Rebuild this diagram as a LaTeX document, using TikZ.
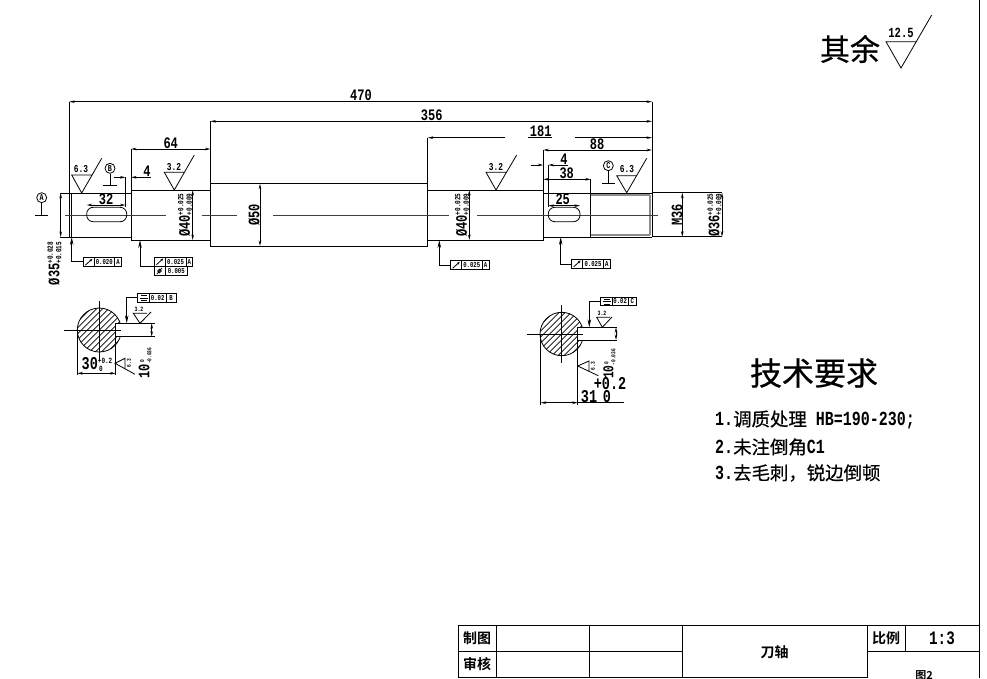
\documentclass[tikz,border=0pt]{standalone}
\usepackage{fontspec}
\usetikzlibrary{arrows.meta}
\setmainfont{Liberation Mono}
\newfontfamily\dimf[FakeStretch=0.75]{Liberation Mono Bold}
\newfontfamily\cjkf{Noto Sans CJK SC}
\newfontfamily\cjkm[FakeBold=0.6]{Noto Sans CJK SC}
\newfontfamily\cjkb{Noto Sans CJK SC Bold}
\newcommand{\fs}[1]{\fontsize{#1}{#1}\selectfont}
\newcommand{\tolst}[3][8]{\raisebox{-2pt}{\fontsize{#1}{6.5}\selectfont\shortstack[l]{#2\\#3}}}
\newcommand{\lab}[4][]{\node[lbl,#1] (#2) at (#3) {#4};}
\newcommand{\rough}[4]{\draw[part] #1 -- #2 -- #3 -- #4;}
\newcommand{\tframe}[6]{\draw[part] (#1,#5) rectangle (#4,#6);
  \draw[part] (#2,#5) -- (#2,#6) (#3,#5) -- (#3,#6);}
\newcommand{\runout}[2]{\draw[part,-{Stealth[length=3pt,width=2.4pt]}] (#1+2,#2+7.5) -- (#1+9,#2+1.2);}
\newcommand{\symm}[2]{\draw[part] (#1+2.5,#2+2) -- (#1+8.5,#2+2) (#1+1.5,#2+4.3) -- (#1+9.5,#2+4.3) (#1+2.5,#2+6.6) -- (#1+8.5,#2+6.6);}
\newcommand{\datum}[5]{\node[circle,draw,line width=.8pt,inner sep=0,minimum size=10pt,font=\dimf\fs{9}] (#5) at (#1,#2) {#5};
  \draw[part] (#5.south) -- (#1,#3) (#1-#4,#3) -- (#1+#4,#3);}
\tikzset{
  x=1pt,y=-1pt,
  part/.style={line width=.8pt,black},
  heavy/.style={line width=1pt,black},
  center/.style={line width=.8pt,black!75},
  thread/.style={line width=1.4pt,black!45},
  dimline/.style={line width=.8pt,black,{Stealth[length=5.5pt,width=2.6pt]}-{Stealth[length=5.5pt,width=2.6pt]}},
  oneend/.style={line width=.8pt,black,-{Stealth[length=5.5pt,width=2.6pt]}},
  lead/.style={line width=.8pt,black,-{Stealth[length=8pt,width=3.5pt]}},
  lbl/.style={inner sep=0,font=\dimf\fs{16}},
  tiny/.style={inner sep=0,font=\dimf\fs{7.5}},
  small/.style={inner sep=0,font=\dimf\fs{10.5}},
  cell/.style={inner sep=0,font=\cjkb\fs{14}}
}
\begin{document}
\begin{tikzpicture}
\useasboundingbox (0,0) rectangle (987,678);
\clip (0,0) rectangle (987,678);
\fill[white] (0,0) rectangle (987,678);
% border
\draw[heavy] (979,0) -- (979,678);
% remark
\node[inner sep=0,font=\cjkm\fs{30}] (rest) at (850,49) {其余};
\rough{(931.7,15)}{(901,68)}{(886,41.7)}{(916.7,41.7)}
\node[small,font=\dimf\fs{14}] (r125) at (901,33) {12.5};
% shaft outline
\draw[heavy] (69.3,193) rectangle (131,237);
\draw[part] (71.7,193) -- (71.7,237);
\draw[heavy] (131,190) rectangle (210.4,240);
\draw[heavy] (210.4,183.7) rectangle (427.7,246);
\draw[heavy] (427.7,190) rectangle (543.3,240);
\draw[heavy] (543.3,193) rectangle (590.7,237);
\draw[heavy] (590.7,193) -- (652,193) (590.7,237) -- (652,237) (590.7,193) -- (590.7,237) (652,193) -- (652,237);
\draw[thread] (590.7,195) -- (650,195) (590.7,235) -- (650,235) (650,195) -- (650,235);
\draw[part] (652,192.7) -- (722,192.7) (652,236.7) -- (722,236.7);
% centre line
\draw[center] (65,215) -- (165.7,215) (201.7,215) -- (236.7,215) (273.3,215) -- (449,215) (477.3,215) -- (658,215);
% keys
\draw[part,rounded corners=6.5pt] (86.7,207.3) rectangle (126.7,221.7);
\draw[part,rounded corners=6.5pt] (548.3,207.3) rectangle (580,221.7);
% extension lines
\draw[part] (69.3,101.7) -- (69.3,193);
\draw[part] (210.4,121.3) -- (210.4,184);
\draw[part] (427.7,137.7) -- (427.7,190);
\draw[part] (131,149) -- (131,190);
\draw[part] (543.3,150) -- (543.3,193);
\draw[part] (652,101.7) -- (652,193);
\draw[part] (125.5,177.3) -- (125.5,207);
\draw[part] (548.3,165) -- (548.3,207);
\draw[part] (590.7,179.3) -- (590.7,193);
\draw[part] (60,193) -- (69.3,193) (60,237) -- (69.3,237);
% dimensions
\draw[dimline] (69.3,101.7) -- (652,101.7);
\lab{d470}{361,95.5}{470}
\draw[dimline] (210.4,121.3) -- (652,121.3);
\lab{d356}{431.7,115.5}{356}
\draw[oneend] (505,137.7) -- (427.7,137.7);
\draw[oneend] (575,137.7) -- (652,137.7);
\draw[part] (528,137.7) -- (552,137.7);
\lab{d181}{540.7,131}{181}
\draw[dimline] (543.3,150) -- (652,150);
\lab{d88}{597,144}{88}
\draw[dimline] (131,149) -- (210.4,149);
\lab{d64}{170.7,143}{64}
\draw[oneend] (114,177.3) -- (125.5,177.3);
\draw[oneend] (150.7,177.3) -- (131,177.3);
\lab{d4a}{147,171}{4}
\draw[dimline] (86.7,205) -- (125.5,205);
\lab{d32}{106,199}{32}
\draw[oneend] (531,165) -- (543.3,165);
\draw[oneend] (568,165) -- (548.3,165);
\lab{d4b}{564,159}{4}
\draw[dimline] (543.3,179.3) -- (590.7,179.3);
\lab{d38}{566.7,173}{38}
\draw[dimline] (548.3,205.7) -- (580,205.7);
\lab{d25}{562.7,199.5}{25}
\draw[dimline] (60.7,193) -- (60.7,237);
\lab[rotate=90]{d35}{54.5,263.5}{Ø35\tolst{+0.028}{+0.015}}
\draw[dimline] (192.7,190) -- (192.7,240);
\lab[rotate=90]{d40a}{185,215}{Ø40\tolst{+0.025}{+0.009}}
\draw[dimline] (260,183.7) -- (260,246);
\lab[rotate=90]{d50}{254,215}{Ø50}
\draw[dimline] (469.3,190) -- (469.3,240);
\lab[rotate=90]{d40b}{462,215}{Ø40\tolst{+0.025}{+0.009}}
\draw[dimline] (682.3,192.7) -- (682.3,236.7);
\lab[rotate=90]{dM}{677,215}{M36}
\draw[dimline] (722,192.7) -- (722,236.7);
\lab[rotate=90]{d36}{714.5,215}{Ø36\tolst{+0.025}{+0.009}}
% roughness on the shaft
\rough{(101.7,158.3)}{(81.7,193)}{(71.7,175)}{(91.7,175)}
\node[small] (r63a) at (81,169.5) {6.3};
\rough{(194.3,155)}{(174.3,190)}{(164.3,172.3)}{(184.3,172.3)}
\node[small] (r32a) at (174,167) {3.2};
\rough{(516.7,155)}{(496,190)}{(486,172.3)}{(506,172.3)}
\node[small] (r32b) at (496,167) {3.2};
\rough{(646.7,158.3)}{(626.7,192.7)}{(616.7,175.7)}{(637,175.7)}
\node[small] (r63b) at (627,169.5) {6.3};
% datums
\datum{41.7}{197.7}{215.7}{6.7}{A}
\datum{110}{168.3}{185.7}{6.7}{B}
\datum{608.3}{165.7}{183.3}{6.7}{C}
% tolerance frames on the shaft
\draw[lead] (83.3,261.7) -- (71.7,261.7) -- (71.7,237);
\tframe{83.3}{94}{114.7}{121.5}{257.7}{266.7}
\runout{83.3}{257.7}
\node[tiny] (t1) at (104.3,262.2) {0.020};
\node[tiny] (t1a) at (118.1,262.2) {A};
\draw[lead] (154.3,266) -- (140,266) -- (140,240);
\tframe{154.3}{165}{186}{192.7}{257.3}{266.3}
\runout{154.3}{257.3}
\node[tiny] (t2) at (175.5,261.8) {0.025};
\node[tiny] (t2a) at (189.3,261.8) {A};
\draw[part] (154.3,266.3) rectangle (187.7,275.5) (165,266.3) -- (165,275.5);
\draw[part] (157,274) -- (162,268) (159.5,271) circle (1.9);
\node[tiny] (t3) at (176.3,271) {0.005};
\draw[lead] (450.7,265) -- (439.3,265) -- (439.3,240);
\tframe{450.7}{461.7}{482}{489.3}{260.7}{269.7}
\runout{450.7}{260.7}
\node[tiny] (t4) at (471.8,265.2) {0.025};
\node[tiny] (t4a) at (485.6,265.2) {A};
\draw[lead] (571.7,264) -- (560.7,264) -- (560.7,237);
\tframe{571.7}{582.7}{603.3}{610.5}{259.3}{268.3}
\runout{571.7}{259.3}
\node[tiny] (t5) at (593,263.8) {0.025};
\node[tiny] (t5a) at (606.9,263.8) {A};
% left section
\begin{scope}
\clip (99.3,330) circle (22);
\foreach \k in {-60,-54,...,60} {
  \draw[part,line width=.7pt] (99.3+\k-30,330+30) -- (99.3+\k+30,330-30);
}
\end{scope}
\draw[part] (99.3,330) circle (22);
\fill[white] (115.7,323.3) rectangle (124,336.7);
\draw[part] (115.7,323.3) -- (115.7,375) (115.7,323.3) -- (155,323.3) (115.7,336.7) -- (155,336.7);
\draw[part] (64,330) -- (121,330) (99.3,301) -- (99.3,360);
\draw[part] (77.3,330) -- (77.3,375);
\draw[dimline] (77.3,373.3) -- (115.7,373.3);
\lab[font=\dimf\fs{18}]{d30}{97,364.5}{30\tolst[8]{+0.2}{\,0}}
\draw[dimline] (151.7,323.3) -- (151.7,336.7);
\lab[rotate=90,font=\dimf\fs{16}]{d10a}{145,363}{10\tolst[6]{\,0}{-0.036}}
\rough{(135,374.3)}{(115,363.3)}{(125,358.3)}{(125,368)}
\node[tiny,rotate=90,font=\dimf\fs{6}] (r63c) at (129,363) {6.3};
\rough{(151,312)}{(140,323.3)}{(133.3,313.3)}{(147,313.3)}
\node[tiny,font=\dimf\fs{6.5}] (r32c) at (139,309.3) {3.2};
\draw[lead] (137.7,297.7) -- (126.7,297.7) -- (126.7,323.3);
\tframe{137.7}{149.3}{166}{176}{293.7}{302.3}
\symm{138}{293.7}
\node[tiny] (t6) at (157.7,298) {0.02};
\node[tiny] (t6a) at (171,298) {B};
% right section
\begin{scope}
\clip (561.7,334) circle (21.7);
\foreach \k in {-60,-54,...,60} {
  \draw[part,line width=.7pt] (561.7+\k-30,334+30) -- (561.7+\k+30,334-30);
}
\end{scope}
\draw[part] (561.7,334) circle (21.7);
\fill[white] (577.7,327.3) rectangle (585,340);
\draw[part] (577.7,327.3) -- (577.7,405) (577.7,327.3) -- (617,327.3) (577.7,340) -- (617,340);
\draw[part] (527.3,334) -- (583,334) (561.7,305) -- (561.7,363);
\draw[part] (540.7,334) -- (540.7,405);
\draw[dimline] (540.7,402.7) -- (577.7,402.7);
\draw[part] (577.7,402.7) -- (624,402.7);
\lab[font=\dimf\fs{18}]{d31}{589,396.5}{31}
\lab[font=\dimf\fs{18}]{d31b}{607,396.5}{0}
\lab[font=\dimf\fs{18}]{d31c}{610,384}{+0.2}
\draw[dimline] (616,327.3) -- (616,340);
\lab[rotate=90,font=\dimf\fs{15}]{d10b}{609.5,364}{10\tolst[6]{\,0}{-0.036}}
\rough{(598.3,375.7)}{(577.7,366)}{(589,361)}{(589,371)}
\node[tiny,rotate=90,font=\dimf\fs{6}] (r63d) at (593,366) {6.3};
\rough{(612,317)}{(602.3,327.3)}{(596.7,317.3)}{(610,317.3)}
\node[tiny,font=\dimf\fs{6.5}] (r32d) at (602,313) {3.2};
\draw[lead] (600.7,301) -- (589.3,301) -- (589.3,327.3);
\tframe{600.7}{612}{628.3}{636}{297.3}{305.7}
\symm{601}{297.3}
\node[tiny] (t7) at (620.2,301.5) {0.02};
\node[tiny] (t7a) at (632.2,301.5) {C};
% technical requirements
\node[inner sep=0,font=\cjkm\fs{32}] (tech) at (814,373) {技术要求};
\node[anchor=west,inner sep=0,font=\dimf\fs{20}] (req1) at (715,420) {1.{\cjkm\fs{18.4}调质处理} HB=190-230;};
\node[anchor=west,inner sep=0,font=\dimf\fs{20}] (req2) at (715,447) {2.{\cjkm\fs{18.4}未注倒角}C1};
\node[anchor=west,inner sep=0,font=\dimf\fs{20}] (req3) at (715,473) {3.{\cjkm\fs{18.4}去毛刺，锐边倒顿}};
% title block
\draw[heavy] (458,625) -- (979,625);
\draw[heavy] (458,651) -- (682,651) (867,651) -- (979,651);
\draw[heavy] (458,677) -- (867,677);
\draw[heavy] (458,625) -- (458,678) (496,625) -- (496,678) (589,625) -- (589,678) (682,625) -- (682,678) (867,625) -- (867,678) (905,625) -- (905,651);
\node[cell] (c1) at (477,638) {制图};
\node[cell] (c2) at (477,664) {审核};
\node[cell] (c3) at (774.5,652) {刀轴};
\node[cell] (c4) at (886,638) {比例};
\node[inner sep=0,font=\dimf\fs{19}] (c5) at (942,638) {1:3};
\node[cell,font=\cjkb\fs{11}] (c6) at (924,676) {图2};
\end{tikzpicture}
\end{document}
